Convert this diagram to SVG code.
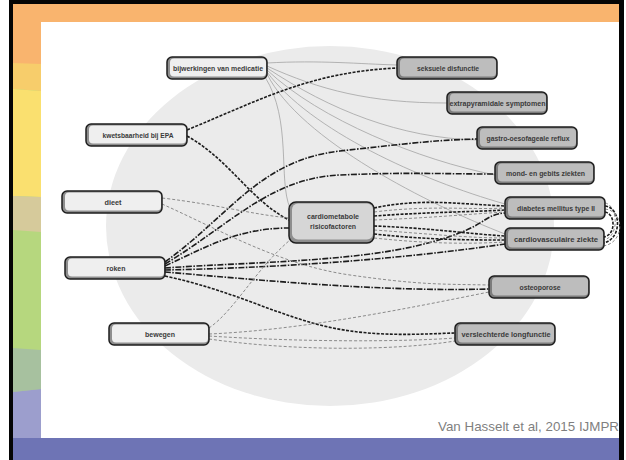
<svg xmlns="http://www.w3.org/2000/svg" width="626" height="460" viewBox="0 0 626 460">
<style>
.lbl{font-family:"Liberation Sans","DejaVu Sans",sans-serif;font-size:7.5px;font-weight:bold;fill:#3a3a3a;text-anchor:middle}
.sh{stroke:#1e1e1e;stroke-width:1.5}
.shL{fill:#8e8e8e}
.inL{fill:#efefef}
.inC{fill:#d6d6d6}
.shR{fill:#7c7c7c}
.inR{fill:#bdbdbd}
.thin{fill:none;stroke:#a3a3a3;stroke-width:0.8}
.dash{fill:none;stroke:#1c1c1c;stroke-width:1.6;stroke-dasharray:3 1.4}
.dd{fill:none;stroke:#1c1c1c;stroke-width:1.6;stroke-dasharray:6 1.5 1.5 1.5}
.gd{fill:none;stroke:#8a8a8a;stroke-width:1;stroke-dasharray:3 2}
</style>
<g id="background">
<rect x="0" y="0" width="626" height="460" fill="#ffffff"/>
<rect x="9" y="0" width="615" height="460" fill="#050505"/>
<rect x="13" y="4" width="606" height="456" fill="#b6d77e"/>
<rect x="13" y="4" width="606" height="60" fill="#f9b46e"/>
<polygon points="13,63 41,64 41,91 13,89" fill="#f7cd6b"/>
<polygon points="13,89 41,91 41,197 13,196" fill="#fae06f"/>
<polygon points="13,196 41,197 41,232 13,230" fill="#d6ca9b"/>
<polygon points="13,348 41,350 41,389 13,392" fill="#a7c19f"/>
<polygon points="13,392 41,389 41,438 13,438" fill="#9c9ecd"/>
<rect x="13" y="438" width="606" height="22" fill="#6e74b5"/>
<rect x="41" y="22" width="578" height="416" fill="#ffffff"/>
<ellipse cx="330" cy="226" rx="224" ry="180" fill="#ebebeb"/>
<text x="619" y="431" font-family="'Liberation Sans',sans-serif" font-size="13.5" fill="#7f7f7f" text-anchor="end" textLength="181" lengthAdjust="spacingAndGlyphs">Van Hasselt et al, 2015 IJMPR</text>
</g>
<g id="connectors">
<path class="thin" d="M267,63 C320,60 360,64 397,65"/>
<path class="thin" d="M267,66 C320,90 370,103 447,103"/>
<path class="thin" d="M267,68 C330,110 400,138 477,140"/>
<path class="thin" d="M267,70 C320,120 420,160 495,175"/>
<path class="thin" d="M267,72 C310,130 420,180 505,204"/>
<path class="thin" d="M267,74 C300,140 430,205 505,234"/>
<path class="thin" d="M265,77 C292,120 278,180 290,208"/>
<path class="dash" d="M187,130 C260,100 310,72 397,68"/>
<path class="dash" d="M187,136 C230,160 250,200 289,220"/>
<path class="dd" d="M165,262 C230,215 260,160 340,151 S440,140 477,139"/>
<path class="dd" d="M165,264 C230,225 270,178 340,175 S440,174 495,174"/>
<path class="dd" d="M165,266 C210,245 240,228 289,228"/>
<path class="dd" d="M165,268 C250,262 350,262 420,245 S480,215 505,213"/>
<path class="dd" d="M165,270 C260,268 380,262 505,244"/>
<path class="dd" d="M165,272 C260,280 380,292 489,289"/>
<path class="dash" d="M165,276 C230,290 270,312 320,325 S420,334 455,333"/>
<path class="gd" d="M162,198 C220,205 250,214 289,218"/>
<path class="gd" d="M162,204 C220,230 280,265 350,275 S440,284 489,285"/>
<path class="gd" d="M209,328 C235,310 255,270 290,240"/>
<path class="gd" d="M209,334 C300,330 400,310 489,292"/>
<path class="gd" d="M209,336 C300,342 400,342 455,338"/>
<path class="gd" d="M209,339 C300,352 400,350 455,341"/>
<path class="dash" d="M374,208 C420,198 460,204 505,206"/>
<path class="gd" d="M374,212 C430,205 470,210 505,208"/>
<path class="dash" d="M374,216 C430,212 470,212 505,210"/>
<path class="gd" d="M374,220 C430,218 470,214 505,212"/>
<path class="dash" d="M374,226 C430,228 470,234 505,236"/>
<path class="gd" d="M374,230 C430,234 470,238 505,238"/>
<path class="dash" d="M374,234 C430,240 470,240 505,240"/>
<path class="gd" d="M374,238 C430,244 470,244 505,242"/>
<path class="gd" d="M605,203 C618,205 620,238 603,240"/>
<path class="dash" d="M605,206 C622,208 622,240 603,243"/>
<path class="gd" d="M605,209 C625,211 625,243 603,246"/>
<path class="dash" d="M605,212 C616,214 616,236 603,237"/>
</g>
<g id="n1"><rect class="sh shL" x="167" y="57" width="100" height="22" rx="5"/><rect class="inL" x="170" y="58.5" width="96" height="18" rx="4"/><text class="lbl" x="218" y="70.5" textLength="90" lengthAdjust="spacingAndGlyphs">bijwerkingen van medicatie</text></g>
<g id="n2"><rect class="sh shL" x="86" y="124" width="101" height="22" rx="5"/><rect class="inL" x="89" y="125.5" width="97" height="18" rx="4"/><text class="lbl" x="138" y="137.5" textLength="71" lengthAdjust="spacingAndGlyphs">kwetsbaarheid bij EPA</text></g>
<g id="n3"><rect class="sh shL" x="62" y="191" width="100" height="22" rx="5"/><rect class="inL" x="65" y="192.5" width="96" height="18" rx="4"/><text class="lbl" x="113" y="204.5" textLength="17" lengthAdjust="spacingAndGlyphs">dieet</text></g>
<g id="n4"><rect class="sh shL" x="65" y="257" width="100" height="22" rx="5"/><rect class="inL" x="68" y="258.5" width="96" height="18" rx="4"/><text class="lbl" x="116" y="270.5" textLength="19" lengthAdjust="spacingAndGlyphs">roken</text></g>
<g id="n5"><rect class="sh shL" x="109" y="323" width="100" height="22" rx="5"/><rect class="inL" x="112" y="324.5" width="96" height="18" rx="4"/><text class="lbl" x="160" y="336.5" textLength="30" lengthAdjust="spacingAndGlyphs">bewegen</text></g>
<g id="n6"><rect class="sh shL" x="289" y="202" width="85" height="41" rx="7"/><rect class="inC" x="292" y="203.5" width="81" height="36" rx="6"/><text class="lbl" x="333" y="219" textLength="52" lengthAdjust="spacingAndGlyphs">cardiometabole</text><text class="lbl" x="333" y="228.5" textLength="46" lengthAdjust="spacingAndGlyphs">risicofactoren</text></g>
<g id="n7"><rect class="sh shR" x="397" y="57" width="100" height="22" rx="5"/><rect class="inR" x="400" y="58.5" width="96" height="18" rx="4"/><text class="lbl" x="448" y="70.5" textLength="62" lengthAdjust="spacingAndGlyphs">seksuele disfunctie</text></g>
<g id="n8"><rect class="sh shR" x="447" y="92" width="100" height="22" rx="5"/><rect class="inR" x="450" y="93.5" width="96" height="18" rx="4"/><text class="lbl" x="497.5" y="105.5" textLength="96" lengthAdjust="spacingAndGlyphs">extrapyramidale symptomen</text></g>
<g id="n9"><rect class="sh shR" x="477" y="127" width="100" height="22" rx="5"/><rect class="inR" x="480" y="128.5" width="96" height="18" rx="4"/><text class="lbl" x="528" y="140.5" textLength="83" lengthAdjust="spacingAndGlyphs">gastro-oesofageale reflux</text></g>
<g id="n10"><rect class="sh shR" x="495" y="162" width="99" height="22" rx="5"/><rect class="inR" x="498" y="163.5" width="95" height="18" rx="4"/><text class="lbl" x="545.5" y="175.5" textLength="79" lengthAdjust="spacingAndGlyphs">mond- en gebits ziekten</text></g>
<g id="n11"><rect class="sh shR" x="505" y="197" width="100" height="22" rx="5"/><rect class="inR" x="508" y="198.5" width="96" height="18" rx="4"/><text class="lbl" x="556" y="210.5" textLength="78" lengthAdjust="spacingAndGlyphs">diabetes mellitus type II</text></g>
<g id="n12"><rect class="sh shR" x="505" y="228" width="99" height="22" rx="5"/><rect class="inR" x="508" y="229.5" width="95" height="18" rx="4"/><text class="lbl" x="556" y="241.5" textLength="84" lengthAdjust="spacingAndGlyphs">cardiovasculaire ziekte</text></g>
<g id="n13"><rect class="sh shR" x="489" y="276" width="100" height="22" rx="5"/><rect class="inR" x="492" y="277.5" width="96" height="18" rx="4"/><text class="lbl" x="540" y="289.5" textLength="41" lengthAdjust="spacingAndGlyphs">osteoporose</text></g>
<g id="n14"><rect class="sh shR" x="455" y="323" width="100" height="22" rx="5"/><rect class="inR" x="458" y="324.5" width="96" height="18" rx="4"/><text class="lbl" x="506" y="336.5" textLength="89" lengthAdjust="spacingAndGlyphs">verslechterde longfunctie</text></g>
</svg>
